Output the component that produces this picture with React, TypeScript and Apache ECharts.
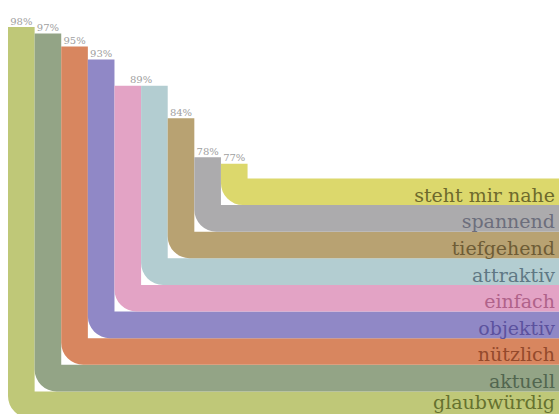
import React, { useEffect, useRef } from "react";
import * as echarts from "echarts";

const categories = [
  "glaubwürdig",
  "aktuell",
  "nützlich",
  "objektiv",
  "einfach",
  "attraktiv",
  "tiefgehend",
  "spannend",
  "steht mir nahe",
];
const values = [98, 97, 95, 93, 89, 89, 84, 78, 77];
const bandColors = [
  "#bfc878",
  "#93a486",
  "#d8865f",
  "#9088c6",
  "#e3a3c5",
  "#b3cdd1",
  "#b8a272",
  "#acabad",
  "#dcd86c",
];
const labelColors = [
  "#66722f",
  "#52664f",
  "#944a2c",
  "#5c529e",
  "#b0628a",
  "#5f7884",
  "#6e5c36",
  "#6c6e7c",
  "#6e6a2c",
];

const X_MAX = 20.7;
const Y_MIN = 38;
const Y_MAX = 100;
const VISIBLE_HEIGHT = 414;

export default function App() {
  const ref = useRef<HTMLDivElement>(null);
  useEffect(() => {
    if (!ref.current) return;
    const chart = echarts.init(ref.current, undefined, { renderer: "svg" });
    const R = 22;
    chart.setOption({
      animation: false,
      backgroundColor: "#ffffff",
      grid: { left: 8, right: 0, top: 14, bottom: 0 },
      xAxis: { type: "value", min: 0, max: X_MAX, show: false },
      yAxis: { type: "value", min: Y_MIN, max: Y_MAX, show: false },
      series: [
        {
          type: "custom",
          clip: false,
          data: values.map((v, i) => [i, v]),
          renderItem: (params: any, api: any) => {
            const i = api.value(0) as number;
            const v = api.value(1) as number;
            const [x0, yTop] = api.coord([i, v]);
            const w = api.size([1, 0])[0];
            const [xRight, yBottom] = api.coord([X_MAX, Y_MIN]);
            const yB = yBottom - i * w;
            const d =
              `M ${x0} ${yTop} L ${x0} ${yB - R} ` +
              `A ${R} ${R} 0 0 0 ${x0 + R} ${yB} ` +
              `L ${xRight} ${yB} L ${xRight} ${yB - w} ` +
              `L ${x0 + w} ${yB - w} L ${x0 + w} ${yTop} Z`;
            const labelY = Math.min(yB - w / 2 + 3, VISIBLE_HEIGHT - 12);
            const children: any[] = [
              { type: "path", shape: { pathData: d }, style: { fill: bandColors[i] } },
              {
                type: "text",
                style: {
                  text: categories[i],
                  x: xRight - 4,
                  y: labelY,
                  align: "right",
                  verticalAlign: "middle",
                  fill: labelColors[i],
                  fontSize: 19,
                  fontFamily: "DejaVu Serif",
                },
              },
            ];
            const sameNext = i < values.length - 1 && values[i + 1] === v;
            if (!sameNext) {
              let start = i;
              while (start > 0 && values[start - 1] === v) start--;
              const cx = (api.coord([start, v])[0] + x0 + w) / 2;
              children.push({
                type: "text",
                style: {
                  text: v + "%",
                  x: cx,
                  y: yTop - 1,
                  align: "center",
                  verticalAlign: "bottom",
                  fill: "#a0a0a0",
                  fontSize: 10,
                  fontFamily: "DejaVu Serif",
                },
              });
            }
            return { type: "group", children };
          },
        },
      ],
    });
    return () => chart.dispose();
  }, []);
  return (
    <div
      style={{
        position: "fixed",
        left: 0,
        top: 0,
        width: 559,
        height: VISIBLE_HEIGHT,
        overflow: "hidden",
        background: "#fff",
      }}
    >
      <div ref={ref} style={{ width: 559, height: VISIBLE_HEIGHT + 4 }} />
    </div>
  );
}
